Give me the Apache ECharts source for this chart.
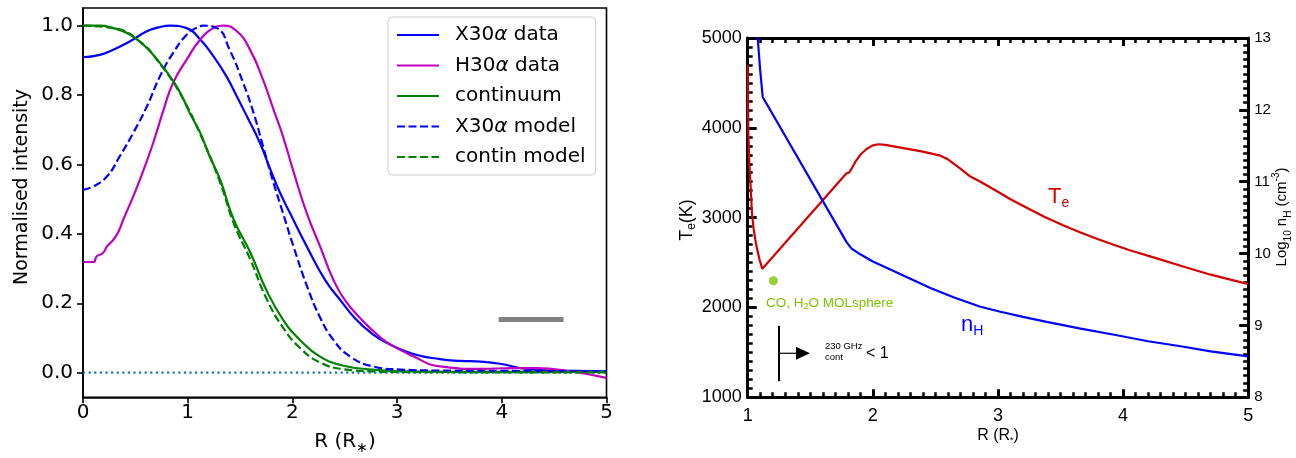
<!DOCTYPE html>
<html>
<head>
<meta charset="utf-8">
<script src="https://cdn.jsdelivr.net/npm/echarts@6/dist/echarts.min.js"></script>
<style>
  html, body { margin: 0; padding: 0; background: #fff; }
  #chart { width: 1296px; height: 458px; }
</style>
</head>
<body>
<div id="chart"></div>
<script>
// ---- Left panel: normalised radial intensity profiles ----
const x30Data_R = [0, 0.16, 0.29, 0.45, 0.61, 0.72, 0.83, 0.99, 1.12, 1.245, 1.37, 1.47, 1.565, 1.69, 1.79, 1.88, 1.977, 2.137, 2.31, 2.455, 2.6, 2.75, 2.9, 3.155, 3.41, 3.6, 3.8, 4.0, 4.2, 4.43, 4.7, 5.0];
const x30Data_I = [0.909, 0.916, 0.931, 0.955, 0.984, 0.995, 1.0, 0.993, 0.96, 0.912, 0.854, 0.796, 0.739, 0.662, 0.585, 0.52, 0.46, 0.364, 0.268, 0.21, 0.156, 0.115, 0.086, 0.054, 0.039, 0.034, 0.032, 0.025, 0.012, 0.007, 0.005, 0.004];

const h30Data_R = [0, 0.1, 0.13, 0.19, 0.23, 0.29, 0.34, 0.39, 0.48, 0.58, 0.67, 0.77, 0.86, 0.99, 1.12, 1.245, 1.34, 1.47, 1.595, 1.72, 1.82, 1.91, 2.01, 2.137, 2.264, 2.391, 2.5, 2.66, 2.78, 2.9, 3.155, 3.41, 3.79, 4.11, 4.33, 4.59, 5.0];
const h30Data_I = [0.319, 0.319, 0.335, 0.345, 0.364, 0.383, 0.407, 0.445, 0.508, 0.585, 0.662, 0.758, 0.835, 0.902, 0.96, 0.993, 1.0, 0.984, 0.931, 0.844, 0.758, 0.681, 0.58, 0.46, 0.364, 0.268, 0.21, 0.153, 0.118, 0.088, 0.047, 0.018, 0.011, 0.013, 0.013, 0.007, -0.015];

const contData_R = [0, 0.16, 0.29, 0.42, 0.54, 0.64, 0.735, 0.83, 0.93, 1.02, 1.12, 1.21, 1.31, 1.44, 1.6, 1.75, 1.91, 2.07, 2.26, 2.49, 2.77, 3.03, 4.0, 5.0];
const contData_I = [1.0, 1.0, 0.993, 0.979, 0.955, 0.926, 0.892, 0.854, 0.806, 0.748, 0.691, 0.623, 0.556, 0.441, 0.345, 0.239, 0.153, 0.095, 0.047, 0.02, 0.009, 0.004, 0.002, 0.002];

const x30Model_R = [0, 0.1, 0.23, 0.35, 0.48, 0.61, 0.735, 0.86, 0.99, 1.08, 1.15, 1.28, 1.4, 1.53, 1.63, 1.72, 1.82, 1.91, 2.01, 2.14, 2.26, 2.39, 2.55, 2.77, 3.03, 3.41, 4.0, 5.0];
const x30Model_I = [0.527, 0.537, 0.566, 0.623, 0.691, 0.767, 0.854, 0.921, 0.974, 0.993, 1.0, 0.993, 0.931, 0.835, 0.748, 0.652, 0.547, 0.46, 0.364, 0.249, 0.162, 0.095, 0.047, 0.018, 0.009, 0.006, 0.005, 0.004];

const contModel_R = [0, 0.29, 0.54, 0.735, 0.93, 1.12, 1.31, 1.44, 1.6, 1.75, 1.91, 2.07, 2.26, 2.49, 2.77, 3.03, 4.0, 5.0];
const contModel_I = [1.0, 0.993, 0.955, 0.89, 0.803, 0.687, 0.548, 0.43, 0.325, 0.215, 0.13, 0.072, 0.03, 0.01, 0.004, 0.002, 0.001, 0.001];

// zero reference level and the beam-size bar
const zeroLine_R = [0, 5];
const zeroLine_I = [0, 0];
const beamBar_R = [3.97, 4.59];
const beamBar_I = [0.153, 0.153];

const leftTicksY = [0, 0.2, 0.4, 0.6, 0.8, 1.0];

// ---- Right panel: electron temperature and hydrogen density ----
const temp_R = [1.0, 1.005, 1.013, 1.024, 1.034, 1.047, 1.06, 1.075, 1.095, 1.117, 1.79, 1.8, 1.81, 1.83, 1.86, 1.9, 1.95, 2.0, 2.045, 2.1, 2.2, 2.4, 2.54, 2.6, 2.7, 2.78, 2.86, 3.02, 3.1, 3.23, 3.37, 3.52, 3.65, 3.79, 3.93, 4.06, 4.25, 4.46, 4.7, 5.0];
const temp_K = [4700, 3950, 3610, 3330, 3050, 2880, 2760, 2650, 2530, 2430, 3494, 3505, 3500, 3545, 3620, 3700, 3765, 3805, 3817, 3810, 3785, 3735, 3690, 3650, 3545, 3457, 3400, 3272, 3205, 3110, 3010, 2915, 2840, 2765, 2695, 2635, 2555, 2465, 2365, 2260];

const dens_R = [1.07, 1.08, 1.1, 1.12, 1.79, 1.83, 1.9, 2.0, 2.14, 2.3, 2.46, 2.65, 2.86, 3.02, 3.2, 3.39, 3.65, 3.93, 4.2, 4.46, 4.7, 5.0];
const dens_logN = [13.3, 13.0, 12.55, 12.18, 10.16, 10.07, 9.99, 9.89, 9.78, 9.65, 9.52, 9.39, 9.26, 9.19, 9.12, 9.05, 8.96, 8.87, 8.78, 8.71, 8.64, 8.57];

const molsphere_R = [1.205];
const molsphere_K = [2298];

// radius where the 230 GHz continuum becomes optically thin (tau < 1)
const tauOne_R = 1.25;
const tauOne_K = [1180, 1795, 1490];

const zip = (a, b) => a.map((v, i) => [v, b[i]]);

const chart = echarts.init(document.getElementById('chart'), null, { renderer: 'canvas' });

const DV = 'DejaVu Sans';
const LS = 'Liberation Sans';
const BLACK = '#000000';

function lineSeries(name, R, I, color, dashed, extra) {
  return Object.assign({
    name: name,
    type: 'line',
    xAxisIndex: 0,
    yAxisIndex: 0,
    data: zip(R, I),
    showSymbol: false,
    symbol: 'none',
    smooth: 0.5,
    lineStyle: { color: color, width: 2.2, type: dashed ? [8, 3.5] : 'solid' },
    itemStyle: { color: color },
    emphasis: { disabled: true },
    z: 3
  }, extra || {});
}

const inTick = (len, w) => ({ show: true, inside: true, length: len, lineStyle: { color: BLACK, width: w } });
const minor = { show: true, splitNumber: 10, length: 5, lineStyle: { color: BLACK, width: 2.5 } };

const option = {
  animation: false,
  backgroundColor: '#ffffff',
  grid: [
    { left: 83, top: 8, width: 523.5, height: 389.3, show: true, borderColor: BLACK, borderWidth: 1.6, backgroundColor: 'transparent', containLabel: false, outerBoundsMode: 'none' },
    { left: 747.7, top: 38, width: 500.5, height: 359.3, show: false, containLabel: false, outerBoundsMode: 'none' }
  ],
  xAxis: [
    {
      gridIndex: 0, type: 'value', min: 0, max: 5, interval: 1, position: 'bottom',
      axisLine: { show: true, onZero: false, lineStyle: { color: BLACK, width: 1.6 } },
      axisTick: { show: true, inside: false, length: 6, lineStyle: { color: BLACK, width: 1.6 } },
      axisLabel: { fontFamily: DV, fontSize: 20, color: BLACK, margin: 5 },
      splitLine: { show: false }
    },
    {
      gridIndex: 1, type: 'value', min: 1, max: 5, interval: 1, position: 'bottom',
      axisLine: { show: true, onZero: false, lineStyle: { color: BLACK, width: 3 } },
      axisTick: inTick(8, 3), minorTick: minor,
      axisLabel: { fontFamily: LS, fontSize: 18, color: BLACK, margin: 10 },
      splitLine: { show: false }, minorSplitLine: { show: false }
    },
    {
      gridIndex: 1, type: 'value', min: 1, max: 5, interval: 1, position: 'top',
      axisLine: { show: true, onZero: false, lineStyle: { color: BLACK, width: 3 } },
      axisTick: inTick(8, 3), minorTick: minor,
      axisLabel: { show: false },
      splitLine: { show: false }, minorSplitLine: { show: false }
    }
  ],
  yAxis: [
    {
      gridIndex: 0, type: 'value', min: -0.071, max: 1.051, position: 'left',
      axisLine: { show: true, onZero: false, lineStyle: { color: BLACK, width: 1.6 } },
      axisTick: { show: true, inside: false, length: 6, customValues: leftTicksY, lineStyle: { color: BLACK, width: 1.6 } },
      axisLabel: { fontFamily: DV, fontSize: 20, color: BLACK, margin: 10, customValues: leftTicksY, formatter: v => v.toFixed(1) },
      splitLine: { show: false }
    },
    {
      gridIndex: 1, type: 'value', min: 1000, max: 5000, interval: 1000, position: 'left',
      axisLine: { show: true, onZero: false, lineStyle: { color: BLACK, width: 3 } },
      axisTick: inTick(9, 3), minorTick: minor,
      axisLabel: { fontFamily: LS, fontSize: 18, color: BLACK, margin: 6, formatter: v => String(v) },
      splitLine: { show: false }, minorSplitLine: { show: false }
    },
    {
      gridIndex: 1, type: 'value', min: 8, max: 13, interval: 1, position: 'right',
      axisLine: { show: true, onZero: false, lineStyle: { color: BLACK, width: 3 } },
      axisTick: inTick(9, 3), minorTick: minor,
      axisLabel: { fontFamily: LS, fontSize: 15, color: BLACK, margin: 6, formatter: v => String(v) },
      splitLine: { show: false }, minorSplitLine: { show: false }
    }
  ],
  legend: {
    show: true,
    selectedMode: false,
    orient: 'vertical',
    left: 388, top: 17,
    itemWidth: 42, itemHeight: 20, itemGap: 10.5,
    padding: [8, 10, 8, 8],
    backgroundColor: 'rgba(255,255,255,0.8)',
    borderColor: '#cccccc', borderWidth: 1, borderRadius: 4,
    itemStyle: { color: 'rgba(0,0,0,0)', borderColor: 'rgba(0,0,0,0)', borderWidth: 0, opacity: 0 },
    textStyle: {
      fontFamily: DV, fontSize: 20, lineHeight: 20, color: BLACK, padding: [0, 0, 0, 11],
      rich: { a: { fontFamily: DV, fontSize: 20, lineHeight: 20, fontStyle: 'italic', color: BLACK } }
    },
    formatter: name => name.replace('α', '{a|α}'),
    data: ['X30α data', 'H30α data', 'continuum', 'X30α model', 'contin model']
  },
  series: [
    lineSeries('zero level', zeroLine_R, zeroLine_I, '#1f77b4', false, { smooth: false, lineStyle: { color: '#1f77b4', width: 2.2, type: [2.2, 3.4] }, z: 2 }),
    lineSeries('X30α data', x30Data_R, x30Data_I, '#0000ff', false),
    lineSeries('H30α data', h30Data_R, h30Data_I, '#bf00bf', false),
    lineSeries('continuum', contData_R, contData_I, '#008000', false),
    lineSeries('X30α model', x30Model_R, x30Model_I, '#0000ff', true),
    lineSeries('contin model', contModel_R, contModel_I, '#008000', true),
    lineSeries('beam', beamBar_R, beamBar_I, '#808080', false, { smooth: false, lineStyle: { color: '#808080', width: 5 } }),
    {
      name: 'Te', type: 'line', xAxisIndex: 1, yAxisIndex: 1,
      data: zip(temp_R, temp_K), showSymbol: false, symbol: 'none', clip: true,
      lineStyle: { color: '#d40000', width: 2.2 }, itemStyle: { color: '#d40000' }, emphasis: { disabled: true }
    },
    {
      name: 'nH', type: 'line', xAxisIndex: 1, yAxisIndex: 2,
      data: zip(dens_R, dens_logN), showSymbol: false, symbol: 'none', clip: true,
      lineStyle: { color: '#0000ff', width: 2.2 }, itemStyle: { color: '#0000ff' }, emphasis: { disabled: true }
    },
    {
      name: 'MOLsphere', type: 'scatter', xAxisIndex: 1, yAxisIndex: 1,
      data: zip(molsphere_R, molsphere_K), symbol: 'circle', symbolSize: 9,
      itemStyle: { color: '#7cc400' }, emphasis: { disabled: true }
    }
  ]
};

chart.setOption(option);

// annotation: vertical marker at tau = 1 with arrow pointing outward
const pTop = chart.convertToPixel({ gridIndex: 1 }, [tauOne_R, tauOne_K[1]]);
const pBot = chart.convertToPixel({ gridIndex: 1 }, [tauOne_R, tauOne_K[0]]);
const pArr = chart.convertToPixel({ gridIndex: 1 }, [tauOne_R, tauOne_K[2]]);

chart.setOption({
  graphic: [
    // left panel axis titles
    {
      type: 'text', x: 22, y: 187, rotation: Math.PI / 2,
      style: { text: 'Normalised intensity', fontFamily: DV, fontSize: 19, fill: BLACK, align: 'center', verticalAlign: 'middle' }
    },
    {
      type: 'text', x: 345, y: 442,
      style: {
        text: 'R (R{s|∗})', fontFamily: DV, fontSize: 20, lineHeight: 26, fill: BLACK, align: 'center', verticalAlign: 'middle',
        rich: { s: { fontFamily: DV, fontSize: 14, lineHeight: 20, verticalAlign: 'bottom', fill: BLACK } }
      }
    },
    // right panel axis titles
    {
      type: 'text', x: 998, y: 436,
      style: {
        text: 'R (R{s|*})', fontFamily: LS, fontSize: 16, lineHeight: 18, fill: BLACK, align: 'center', verticalAlign: 'middle',
        rich: { s: { fontFamily: LS, fontSize: 9, lineHeight: 14, verticalAlign: 'bottom', fill: BLACK } }
      }
    },
    {
      type: 'text', x: 687, y: 220, rotation: Math.PI / 2,
      style: {
        text: 'T{s|e}(K)', fontFamily: LS, fontSize: 18, lineHeight: 22, fill: BLACK, align: 'center', verticalAlign: 'middle',
        rich: { s: { fontFamily: LS, fontSize: 12, lineHeight: 16, verticalAlign: 'bottom', fill: BLACK } }
      }
    },
    {
      type: 'text', x: 1282, y: 217, rotation: Math.PI / 2,
      style: {
        text: 'Log{s|10} n{s|H} (cm{p|-3})', fontFamily: LS, fontSize: 15, lineHeight: 22, fill: BLACK, align: 'center', verticalAlign: 'middle',
        rich: {
          s: { fontFamily: LS, fontSize: 10, lineHeight: 16, verticalAlign: 'bottom', fill: BLACK },
          p: { fontFamily: LS, fontSize: 10, lineHeight: 16, verticalAlign: 'top', fill: BLACK }
        }
      }
    },
    // curve labels
    {
      type: 'text', x: 1048, y: 197,
      style: {
        text: 'T{s|e}', fontFamily: LS, fontSize: 22, lineHeight: 26, fill: '#d40000', align: 'left', verticalAlign: 'middle',
        rich: { s: { fontFamily: LS, fontSize: 14, lineHeight: 22, verticalAlign: 'bottom', fill: '#d40000' } }
      }
    },
    {
      type: 'text', x: 961, y: 325,
      style: {
        text: 'n{s|H}', fontFamily: LS, fontSize: 22, lineHeight: 26, fill: '#0000ff', align: 'left', verticalAlign: 'middle',
        rich: { s: { fontFamily: LS, fontSize: 14, lineHeight: 22, verticalAlign: 'bottom', fill: '#0000ff' } }
      }
    },
    {
      type: 'text', x: 766, y: 303,
      style: {
        text: 'CO, H{s|2}O MOLsphere', fontFamily: LS, fontSize: 13.5, lineHeight: 16, fill: '#7cc400', align: 'left', verticalAlign: 'middle',
        rich: { s: { fontFamily: LS, fontSize: 9, lineHeight: 14, verticalAlign: 'bottom', fill: '#7cc400' } }
      }
    },
    // tau = 1 marker
    {
      type: 'line', shape: { x1: pTop[0], y1: pTop[1], x2: pBot[0], y2: pBot[1] },
      style: { stroke: BLACK, lineWidth: 2 }
    },
    {
      type: 'line', shape: { x1: pArr[0], y1: pArr[1], x2: pArr[0] + 18, y2: pArr[1] },
      style: { stroke: BLACK, lineWidth: 1.2 }
    },
    {
      type: 'polygon', shape: { points: [[pArr[0] + 17, pArr[1] - 6.5], [pArr[0] + 17, pArr[1] + 6.5], [pArr[0] + 31, pArr[1]]] },
      style: { fill: BLACK }
    },
    {
      type: 'text', x: pArr[0] + 46, y: pArr[1] - 7,
      style: { text: '230 GHz', fontFamily: LS, fontSize: 9.5, fill: BLACK, align: 'left', verticalAlign: 'middle' }
    },
    {
      type: 'text', x: pArr[0] + 46, y: pArr[1] + 4,
      style: { text: 'cont', fontFamily: LS, fontSize: 9.5, fill: BLACK, align: 'left', verticalAlign: 'middle' }
    },
    {
      type: 'text', x: pArr[0] + 87, y: pArr[1],
      style: { text: '< 1', fontFamily: LS, fontSize: 16, fill: BLACK, align: 'left', verticalAlign: 'middle' }
    }
  ]
});
</script>
</body>
</html>
